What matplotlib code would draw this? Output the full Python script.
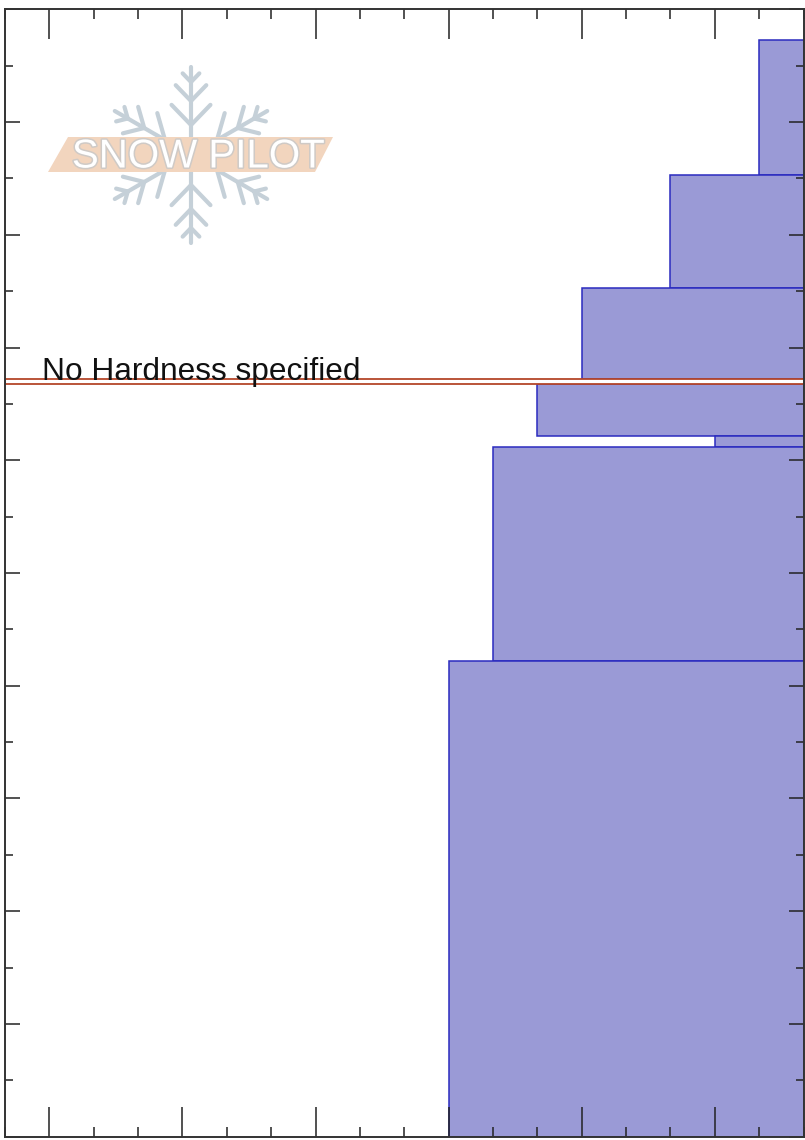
import numpy as np
import matplotlib
matplotlib.use('Agg')
from matplotlib import pyplot as plt
from matplotlib.ticker import FixedLocator, MultipleLocator
from matplotlib.patches import Polygon
import matplotlib.patheffects as pe

# layers (height in cm) and hand hardness index (F-=1 ... I+=18)
layer_top = [194.5, 170.6, 150.5, 133.5, 124.3, 122.4, 84.4]
layer_bottom = [170.6, 150.5, 134.4, 124.3, 122.4, 84.4, 0.0]
hardness = [1, 3, 5, 6, 2, 7, 8]

# layer with no hardness given
nohard_top = 134.4
nohard_bottom = 133.5

hard_major = [2, 5, 8, 11, 14, 17]   # F, 4F, 1F, P, K, I
hard_minor = [0, 1, 3, 4, 6, 7, 9, 10, 12, 13, 15, 16, 18]

W, H = 805, 1140
fig = plt.figure(figsize=(W / 100, H / 100), dpi=100)
ax = fig.add_axes([5 / W, 3.3 / H, 798.5 / W, 1127.4 / H])

heights = np.array(layer_top) - np.array(layer_bottom)
ax.barh(layer_bottom, hardness, height=heights, left=0, align='edge',
        color='#9a9ad6', edgecolor='#2b2bbf', linewidth=1.1, zorder=1)

ax.barh([nohard_bottom], [18], height=[nohard_top - nohard_bottom], left=0,
        align='edge', color='white', edgecolor='#b4462a', linewidth=1.3, zorder=1.2)
ax.text(0.046, nohard_top - 0.1, 'No Hardness specified', transform=ax.get_yaxis_transform(),
        fontsize=22.8, family='Liberation Sans', color='#111111', va='baseline', ha='left', zorder=3)

ax.set_xlim(18, 0)
ax.set_ylim(0, 200)
ax.xaxis.set_major_locator(FixedLocator(hard_major))
ax.xaxis.set_minor_locator(FixedLocator(hard_minor))
ax.yaxis.set_major_locator(MultipleLocator(20))
ax.yaxis.set_minor_locator(MultipleLocator(10))
ax.tick_params(which='both', direction='in', top=True, bottom=True, left=True, right=True,
               labelbottom=False, labelleft=False, color='#222222', width=1.1)
ax.tick_params(axis='x', which='major', length=21.6)
ax.tick_params(axis='x', which='minor', length=7.2)
ax.tick_params(axis='y', which='major', length=10.8)
ax.tick_params(axis='y', which='minor', length=5.8)
for s in ax.spines.values():
    s.set_linewidth(1.4)
    s.set_color('#333333')

# Snow Pilot watermark, drawn in pixel units
lg = fig.add_axes([40 / W, 1 - 250 / H, 300 / W, 190 / H], zorder=5)
lg.set_xlim(40, 340)
lg.set_ylim(250, 60)
lg.axis('off')
lg.patch.set_alpha(0)

cx, cy = 191, 155
flake = '#c5d0d8'
for ang in [90, 30, 150, 210, 270, 330]:
    a = np.deg2rad(ang)
    ux, uy = np.cos(a), -np.sin(a)
    lg.plot([cx, cx + 88 * ux], [cy, cy + 88 * uy], color=flake, lw=3, solid_capstyle='round')
    for d, b in [(30, 28), (54, 22), (73, 12)]:
        px, py = cx + d * ux, cy + d * uy
        for s in [-1, 1]:
            a2 = a + s * np.deg2rad(44)
            lg.plot([px, px + b * np.cos(a2)], [py, py - b * np.sin(a2)],
                    color=flake, lw=3, solid_capstyle='round')

lg.add_patch(Polygon([(48, 172), (68, 137), (333, 137), (315, 172)], closed=True,
                     facecolor='#f2d5be', edgecolor='none', zorder=3))
lg.text(198, 156.5, 'SNOW PILOT', fontsize=29, family='Liberation Sans', color='white',
        ha='center', va='center', zorder=4,
        path_effects=[pe.withStroke(linewidth=2.2, foreground='#cfcac6')])

plt.savefig('out.png', dpi=100)
